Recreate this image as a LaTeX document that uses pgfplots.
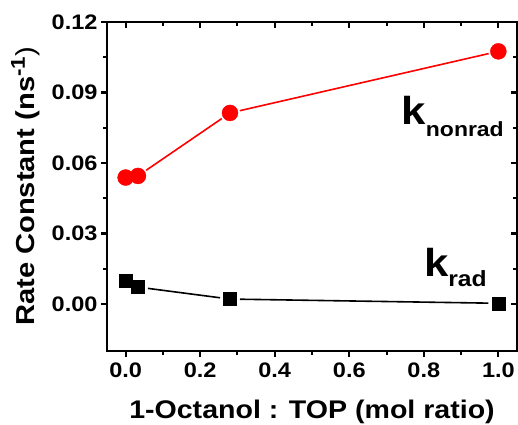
\documentclass[border=0pt]{standalone}
\usepackage{fontspec}
\setmainfont{Liberation Sans}[FakeStretch=1.12]
\usepackage{pgfplots}
\pgfplotsset{compat=1.18}
\begin{document}
\begin{tikzpicture}
\path[use as bounding box] (-107bp,-74bp) rectangle (411bp,351bp);
\pgfplotsset{
 common/.style={scale only axis, width=410bp, height=329bp,
  xmin=-0.05, xmax=1.05, ymin=-0.02, ymax=0.12,
  xtick={0,0.2,0.4,0.6,0.8,1.0}, ytick={0,0.03,0.06,0.09,0.12},
  minor x tick num=1, minor y tick num=1,
  axis line style={line width=2.6bp},
  major tick style={line width=2.2bp, black},
  minor tick style={line width=2bp, black},
  major tick length=6bp, minor tick length=4bp,
  at={(0,0)}, anchor=south west,
  clip=false}
}
\begin{axis}[common, tick align=outside, xtick pos=lower, ytick pos=left,
  font=\fontsize{21bp}{21bp}\selectfont\bfseries,
  /pgf/number format/assume math mode=true,
  xticklabel style={yshift=-2bp, /pgf/number format/.cd, fixed, fixed zerofill, precision=1},
  yticklabel style={/pgf/number format/.cd, fixed, fixed zerofill, precision=2},
  every axis x label/.style={at={(axis description cs:0.5,-0.204)}, anchor=base},
  every axis y label/.style={at={(axis description cs:-0.176,0.5)}, rotate=90, anchor=base},
  xlabel={\fontsize{25.5bp}{25.5bp}\selectfont\bfseries 1-Octanol : TOP (mol ratio)},
  ylabel={\fontsize{26bp}{26bp}\selectfont\bfseries Rate Constant (ns\raisebox{10bp}{\fontsize{20bp}{20bp}\selectfont -1}{\mdseries )}},
]
% red line segments
\addplot[red, line width=1.6bp, shorten <=10bp, shorten >=10bp] coordinates {(0.033,0.0545) (0.28,0.0813)};
\addplot[red, line width=1.6bp, shorten <=10bp, shorten >=10bp] coordinates {(0.28,0.0813) (1.0,0.1075)};
% black line segments
\addplot[black, line width=1.6bp, shorten <=10bp, shorten >=10bp] coordinates {(0.033,0.0072) (0.28,0.0021)};
\addplot[black, line width=1.6bp, shorten <=10bp, shorten >=10bp] coordinates {(0.28,0.0021) (1.0,0.0003)};
% markers
\addplot[only marks, mark=*, mark size=8bp, red, mark options={draw=red, fill=red}] coordinates {(0,0.0538) (0.033,0.0545) (0.28,0.0813) (1.0,0.1075)};
\addplot[only marks, mark=square*, mark size=6.5bp, black] coordinates {(0,0.0098) (0.033,0.0072) (0.28,0.0021) (1.0,0.0003)};
\node[anchor=base west, inner sep=0pt, font=\fontsize{39bp}{39bp}\selectfont\bfseries] at (axis cs:0.74,0.0762) {k\raisebox{-12bp}{\fontsize{20.5bp}{20.5bp}\selectfont nonrad}};
\node[anchor=base west, inner sep=0pt, font=\fontsize{39bp}{39bp}\selectfont\bfseries] at (axis cs:0.80,0.0115) {k\raisebox{-10bp}{\fontsize{22bp}{22bp}\selectfont rad}};
\end{axis}
\begin{axis}[common, tick align=inside, xtick pos=upper, ytick pos=right,
  xticklabels={}, yticklabels={}]
\end{axis}
\end{tikzpicture}
\end{document}
